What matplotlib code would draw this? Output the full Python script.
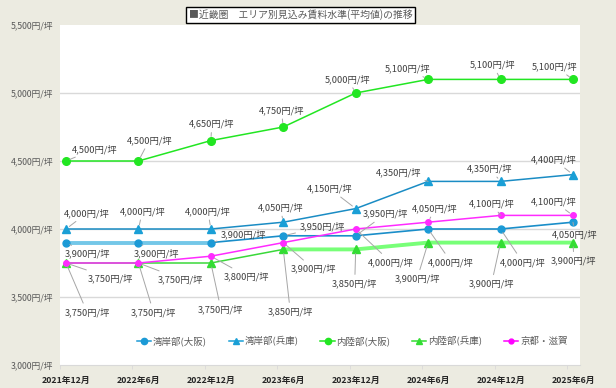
import matplotlib
matplotlib.use("Agg")
import matplotlib.pyplot as plt
from matplotlib.lines import Line2D

plt.rcParams['font.family'] = ['Noto Sans CJK JP', 'DejaVu Sans']

# ---- data ----
categories = ["2021年12月", "2022年6月", "2022年12月", "2023年6月",
              "2023年12月", "2024年6月", "2024年12月", "2025年6月"]
wangan_osaka = [3900, 3900, 3900, 3950, 3950, 4000, 4000, 4050]
wangan_hyogo = [4000, 4000, 4000, 4050, 4150, 4350, 4350, 4400]
nairiku_osaka = [4500, 4500, 4650, 4750, 5000, 5100, 5100, 5100]
nairiku_hyogo = [3750, 3750, 3750, 3850, 3850, 3900, 3900, 3900]
kyoto_shiga = [3750, 3750, 3800, 3900, 4000, 4050, 4100, 4100]
series_names = ["湾岸部(大阪)", "湾岸部(兵庫)", "内陸部(大阪)", "内陸部(兵庫)", "京都・滋賀"]
yticks = [3000, 3500, 4000, 4500, 5000, 5500]
title = "■近畿圏　エリア別見込み賃料水準(平均値)の推移"

# ---- styles / label offsets (pixels) ----
W, H = 616, 388
fig = plt.figure(figsize=(W / 100, H / 100), dpi=100)
fig.patch.set_facecolor("#ecebe1")
ax = fig.add_axes([60 / W, (H - 365) / H, 520 / W, 340 / H])
ax.set_facecolor("white")

x = list(range(len(categories)))
ax.set_xlim(-0.083, 7.097)
ax.set_ylim(3000, 5500)

for yv in yticks[1:-1]:
    ax.axhline(yv, color="#d9d9d9", lw=1.0, zorder=0)

for s in ["top", "right", "left"]:
    ax.spines[s].set_visible(False)
ax.spines["bottom"].set_color("#d9d9d9")

ax.set_yticks(yticks)
ax.set_yticklabels([f"{v:,}円/坪" for v in yticks], fontsize=6.3, color="#595959")
ax.tick_params(axis="y", length=0, pad=5)
ax.set_xticks(x)
ax.set_xticklabels(categories, fontsize=6.3, color="#262626", fontweight="bold")
ax.tick_params(axis="x", length=0, pad=8)
ax.set_xticks([i - 0.083 for i in x], minor=True)
ax.tick_params(axis="x", which="minor", length=3, color="#d9d9d9")

def seg(vals, i0, i1, **kw):
    ax.plot(x[i0:i1 + 1], vals[i0:i1 + 1], solid_capstyle="butt", **kw)

# 湾岸部(大阪)
c_wo = "#1c9ad6"
seg(wangan_osaka, 0, 2, color="#74c7e8", lw=2.8, zorder=2)
seg(wangan_osaka, 2, 7, color="#1a8ec9", lw=1.2, zorder=2)
ax.plot(x, wangan_osaka, ls="none", marker="o", ms=5, color=c_wo, zorder=4)
# 湾岸部(兵庫)
c_wh = "#1a9fd6"
ax.plot(x, wangan_hyogo, color="#1a8cc4", lw=1.1, zorder=2)
ax.plot(x, wangan_hyogo, ls="none", marker="^", ms=5.5, color=c_wh, zorder=4)
# 内陸部(大阪)
c_no = "#22e622"
ax.plot(x, nairiku_osaka, color=c_no, lw=1.1, marker="o", ms=5.5, zorder=3)
# 内陸部(兵庫)
c_nh = "#33dd33"
seg(nairiku_hyogo, 0, 3, color="#3ad83a", lw=1.1, zorder=2)
seg(nairiku_hyogo, 3, 7, color="#78ff78", lw=2.8, zorder=2)
ax.plot(x, nairiku_hyogo, ls="none", marker="^", ms=5.5, color=c_nh, zorder=4)
# 京都・滋賀
c_ks = "#ff00ff"
ax.plot(x, kyoto_shiga, color="#ff2bff", lw=1.1, marker="o", ms=4, zorder=5)

label_offsets = {
    "no": [(29, 12), (11, 21), (1, 17), (-2, 17), (-8, 14), (-21, 11), (-8, 15), (-18, 13)],
    "wh": [(21, 16), (4, 18), (-3, 18), (-3, 15), (-26, 20), (-30, 9), (-11, 13), (-19, 15)],
    "wo": [(22, -11), (18, -11), (33, 8), (39, 9), (30, 22), (23, -33), (22, -33), (2, -12)],
    "ks": [(44, -15), (42, -16), (36, -20), (30, -26), (35, -33), (7, 14), (-9, 12), (-19, 14)],
    "nh": [(21, -49), (15, -49), (10, -46), (7, -62), (-1, -34), (-11, -36), (-9, -41), (1, -18)],
}
series_vals = {"no": nairiku_osaka, "wh": wangan_hyogo, "wo": wangan_osaka,
               "ks": kyoto_shiga, "nh": nairiku_hyogo}

for key, vals in series_vals.items():
    for i, v in enumerate(vals):
        dx, dy = label_offsets[key][i]
        ax.annotate(f"{v:,}円/坪", xy=(x[i], v), xytext=(dx, dy),
                    textcoords="offset pixels", ha="center", va="center",
                    fontsize=6.7, color="#404040", annotation_clip=False,
                    arrowprops=dict(arrowstyle="-", color="#a6a6a6", lw=0.7,
                                    shrinkA=1, shrinkB=3),
                    zorder=6)

handles = [
    Line2D([], [], color=c_wo, marker="o", ms=4.5, lw=1.1),
    Line2D([], [], color=c_wh, marker="^", ms=5, lw=1.1),
    Line2D([], [], color=c_no, marker="o", ms=4.5, lw=1.1),
    Line2D([], [], color=c_nh, marker="^", ms=5, lw=1.1),
    Line2D([], [], color=c_ks, marker="o", ms=3.5, lw=1.1),
]
leg = ax.legend(handles, series_names, loc="center", bbox_to_anchor=(0.562, 0.07),
                ncol=5, frameon=False, fontsize=6.8, handlelength=1.5,
                handletextpad=0.2, columnspacing=2.3, labelcolor="#595959")

fig.text(300.5 / W, (H - 15) / H, title, ha="center", va="center", fontsize=7.1,
         color="#595959",
         bbox=dict(boxstyle="square,pad=0.22", facecolor="white", edgecolor="black", lw=1.0))

fig.savefig("out.png", dpi=100, facecolor=fig.get_facecolor())
